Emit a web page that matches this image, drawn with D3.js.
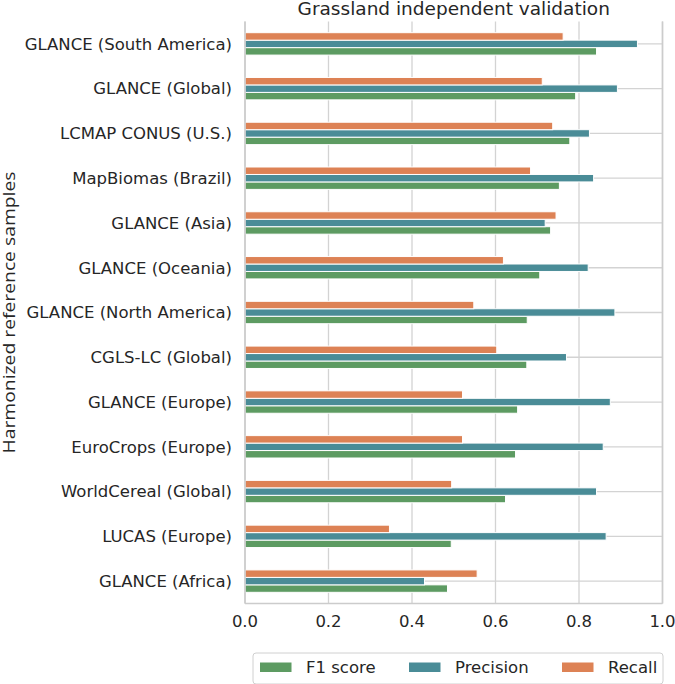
<!DOCTYPE html>
<html><head><meta charset="utf-8">
<script src="https://cdn.jsdelivr.net/npm/d3@7"></script>
<style>body{margin:0;background:#fff}svg{display:block}text{font-family:"DejaVu Sans",sans-serif;fill:#262626}</style>
</head><body><svg id="c" width="675" height="684"></svg>
<script>
const categories = ["GLANCE (South America)","GLANCE (Global)","LCMAP CONUS (U.S.)","MapBiomas (Brazil)","GLANCE (Asia)","GLANCE (Oceania)","GLANCE (North America)","CGLS-LC (Global)","GLANCE (Europe)","EuroCrops (Europe)","WorldCereal (Global)","LUCAS (Europe)","GLANCE (Africa)"];
const f1 =        [0.842,0.792,0.778,0.753,0.732,0.706,0.676,0.675,0.653,0.648,0.624,0.494,0.485];
const precision = [0.940,0.892,0.825,0.835,0.719,0.822,0.886,0.770,0.875,0.858,0.842,0.865,0.430];
const recall =    [0.762,0.712,0.737,0.684,0.745,0.619,0.548,0.603,0.521,0.521,0.495,0.346,0.556];
const xTicks = [0,0.2,0.4,0.6,0.8,1.0];
const seriesNames = ["F1 score","Precision","Recall"];
const seriesColors = ["#5d9b62","#4a8c97","#dd8255"];
const seriesValues = [f1, precision, recall];

const svg = d3.select("#c");
const L=245, R=662.5, T=21.5, B=603.5;
const x = d3.scaleLinear().domain([0,1]).range([L,R]);
const y = d3.scaleBand().domain(categories).range([T,B]);
const step = y.step();
const bh = step/6;
// F1 bottom, precision middle, recall top
const offs = [1, 0, -1];
const grid = "#d3d3d3";

svg.append("g").selectAll("line").data(xTicks).join("line")
  .attr("x1",d=>x(d)).attr("x2",d=>x(d)).attr("y1",T).attr("y2",B)
  .attr("stroke",grid).attr("stroke-width",1.3);
svg.append("g").selectAll("line").data(categories).join("line")
  .attr("x1",L).attr("x2",R).attr("y1",d=>y(d)+step/2).attr("y2",d=>y(d)+step/2)
  .attr("stroke",grid).attr("stroke-width",1.3);

seriesValues.forEach((vals,si)=>{
  svg.append("g").selectAll("rect").data(categories).join("rect")
    .attr("x",x(0))
    .attr("y",(d,i)=>y(d)+step/2 + offs[si]*bh - bh/2)
    .attr("width",(d,i)=>x(vals[i])-x(0))
    .attr("height",bh)
    .attr("fill",seriesColors[si])
    .attr("stroke","#fff").attr("stroke-width",1);
});

svg.append("line").attr("x1",L).attr("x2",L).attr("y1",T).attr("y2",B).attr("stroke","#cccccc").attr("stroke-width",1.6);
svg.append("line").attr("x1",R).attr("x2",R).attr("y1",T).attr("y2",B).attr("stroke","#cccccc").attr("stroke-width",1.6);
svg.append("line").attr("x1",L).attr("x2",R).attr("y1",B).attr("y2",B).attr("stroke","#cccccc").attr("stroke-width",1.6);

svg.append("g").selectAll("text").data(categories).join("text")
  .attr("x",L-13).attr("y",d=>y(d)+step/2).attr("dy","0.35em")
  .attr("text-anchor","end").attr("font-size",16.5).text(d=>d);

svg.append("g").selectAll("text").data(xTicks).join("text")
  .attr("x",d=>x(d)).attr("y",621).attr("dy","0.35em")
  .attr("text-anchor","middle").attr("font-size",16.5).text(d=>d.toFixed(1));

svg.append("text").attr("x",(L+R)/2).attr("y",14.5).attr("text-anchor","middle")
  .attr("font-size",18.5).text("Grassland independent validation");

svg.append("text").attr("transform",`translate(14.5,${(T+B)/2}) rotate(-90)`)
  .attr("text-anchor","middle").attr("font-size",16)
  .style("font-family","'Open Sans',sans-serif")
  .attr("textLength",282).attr("lengthAdjust","spacingAndGlyphs")
  .text("Harmonized reference samples");

const lg = svg.append("g");
lg.append("rect").attr("x",253).attr("y",653).attr("width",410).attr("height",31).attr("rx",3)
  .attr("fill","#fff").attr("stroke","#d0d0d0").attr("stroke-width",1);
const lx = [260, 409, 562];
seriesNames.forEach((n,i)=>{
  lg.append("rect").attr("x",lx[i]).attr("y",662.5).attr("width",31.5).attr("height",9.5).attr("fill",seriesColors[i]);
  lg.append("text").attr("x",lx[i]+46).attr("y",667.5).attr("dy","0.35em").attr("font-size",16.5).text(n);
});
</script></body></html>
